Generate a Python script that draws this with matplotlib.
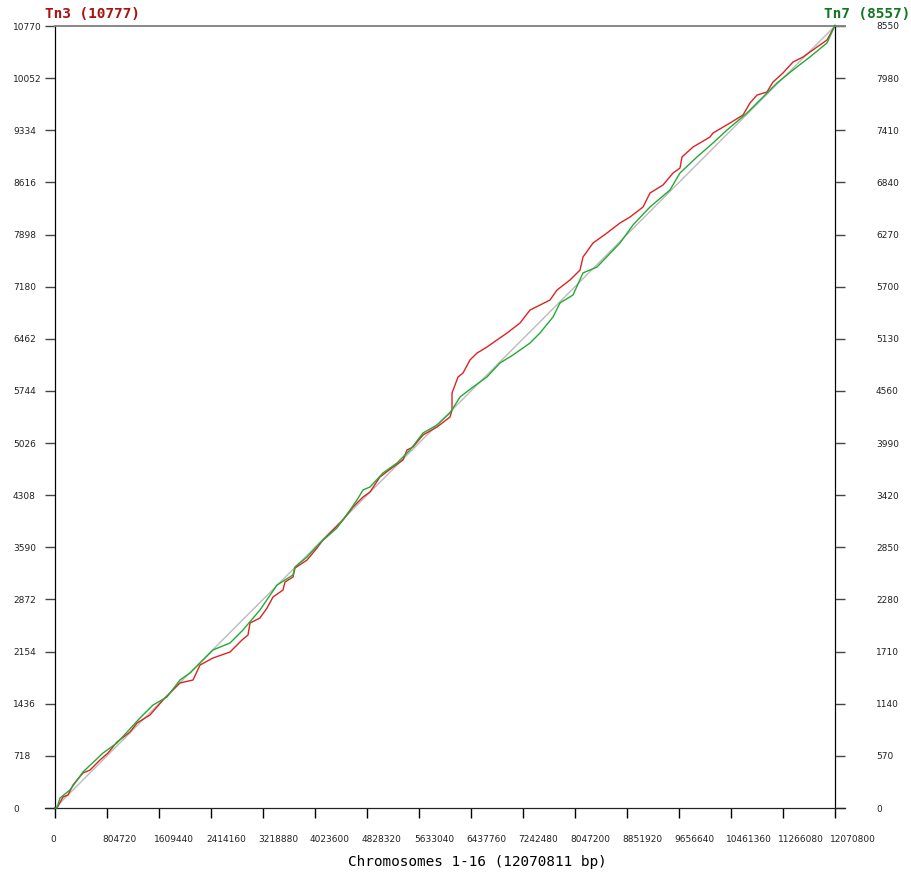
import matplotlib
matplotlib.use("Agg")
from matplotlib import pyplot as plt

## Data (positions in Mb, cumulative insertion counts)
genome_bp = 12070811
tn3_total = 10777
tn7_total = 8557

tn3_mb = [0, 0.031, 0.124, 0.201, 0.263, 0.279, 0.433, 0.542, 0.696, 0.820, 0.959,
          1.161, 1.269, 1.470, 1.671, 1.934, 2.136, 2.244, 2.445, 2.708, 2.894, 2.987,
          3.018, 3.172, 3.281, 3.374, 3.528, 3.559, 3.683, 3.714, 3.900, 4.055, 4.147,
          4.302, 4.457, 4.612, 4.766, 4.875, 5.029, 5.231, 5.385, 5.447, 5.540, 5.695,
          5.912, 6.113, 6.144, 6.144, 6.237, 6.314, 6.422, 6.531, 6.685, 6.995, 7.196,
          7.351, 7.660, 7.769, 7.970, 8.125, 8.171, 8.326, 8.542, 8.744, 8.898, 9.100,
          9.208, 9.409, 9.564, 9.672, 9.703, 9.873, 10.136, 10.183, 10.446, 10.647,
          10.755, 10.864, 11.018, 11.111, 11.266, 11.421, 11.576, 11.792, 11.947, 12.0708]
tn3_count = [0, 0, 151, 179, 289, 317, 482, 523, 661, 757, 909,
             1047, 1171, 1281, 1487, 1722, 1763, 1969, 2066, 2148, 2314, 2383,
             2548, 2617, 2754, 2906, 3002, 3112, 3181, 3305, 3415, 3581, 3691,
             3829, 3966, 4145, 4283, 4352, 4559, 4696, 4793, 4930, 4972, 5137,
             5247, 5385, 5481, 5715, 5936, 5991, 6170, 6266, 6349, 6542, 6679,
             6858, 6996, 7134, 7272, 7409, 7588, 7781, 7919, 8057, 8139, 8277,
             8470, 8580, 8745, 8814, 8966, 9103, 9241, 9296, 9434, 9544,
             9709, 9819, 9861, 9998, 10123, 10274, 10343, 10480, 10577, 10777]

tn7_mb = [0, 0.031, 0.077, 0.232, 0.433, 0.743, 0.959, 1.315, 1.517, 1.733, 1.934,
          2.089, 2.244, 2.445, 2.708, 2.909, 3.172, 3.436, 3.683, 3.714, 3.900, 4.101,
          4.364, 4.565, 4.674, 4.766, 4.875, 5.076, 5.293, 5.494, 5.695, 5.912, 6.113,
          6.268, 6.469, 6.685, 6.887, 7.088, 7.351, 7.506, 7.707, 7.815, 8.016, 8.171,
          8.388, 8.744, 8.945, 9.208, 9.517, 9.672, 9.935, 10.183, 10.400, 10.709,
          10.957, 11.173, 11.421, 11.684, 11.947, 12.0708]
tn7_count = [0, 0, 109, 197, 394, 601, 711, 984, 1126, 1214, 1400,
             1476, 1585, 1728, 1804, 1946, 2165, 2438, 2548, 2635, 2744, 2898,
             3062, 3258, 3368, 3477, 3510, 3663, 3772, 3914, 4100, 4188, 4319,
             4494, 4603, 4713, 4866, 4953, 5084, 5194, 5369, 5522, 5609, 5850,
             5915, 6178, 6375, 6571, 6757, 6943, 7118, 7271, 7413, 7599,
             7774, 7927, 8069, 8212, 8365, 8557]

x_step = 804720
left_step = 718
right_step = 570
n_ticks = 16

x_max = x_step * (n_ticks - 1)
left_max = left_step * (n_ticks - 1)
right_max = right_step * (n_ticks - 1)

red = '#dd2222'
green = '#22aa33'

fig = plt.figure(figsize=(9.11, 8.77), dpi=100)
W, H = 911, 877
ax = fig.add_axes([55 / W, (H - 808) / H, 780 / W, 782 / H])
ax2 = ax.twinx()

# diagonal reference line
ax.plot([0, x_max], [0, left_max], color='#bbbbbb', lw=1.0, zorder=1)

ax.plot([m * 1e6 for m in tn3_mb], tn3_count, color=red, lw=1.0, zorder=2, clip_on=False)
ax2.plot([m * 1e6 for m in tn7_mb], tn7_count, color=green, lw=1.0, zorder=3, clip_on=False)

ax.set_xlim(0, x_max)
ax.set_ylim(0, left_max)
ax2.set_ylim(0, right_max)

ext = 10 * x_max / 780  # 10 px overhang of the bottom / top lines
for a in (ax, ax2):
    a.spines['bottom'].set_bounds(-ext, x_max + ext)
    a.spines['bottom'].set_color('#222222')
    a.spines['top'].set_bounds(0, x_max + ext)
    a.spines['top'].set_color('#888888')
    a.spines['top'].set_linewidth(1.2)
    a.spines['left'].set_color('black')
    a.spines['right'].set_color('black')

# left axis
ax.set_yticks([left_step * i for i in range(n_ticks)])
ax.set_yticklabels([str(left_step * i) for i in range(n_ticks)])
ax.tick_params(axis='y', direction='out', length=7.2, width=1, color='#444444',
               pad=23, labelsize=6.5, labelcolor='#222222')
for lab in ax.get_yticklabels():
    lab.set_horizontalalignment('left')

# right axis
ax2.set_yticks([right_step * i for i in range(n_ticks)])
ax2.set_yticklabels([str(right_step * i) for i in range(n_ticks)])
ax2.tick_params(axis='y', direction='out', length=7.2, width=1, color='#444444',
                pad=22.3, labelsize=6.5, labelcolor='#222222')

# bottom axis
xt = [x_step * i for i in range(n_ticks)]
ax.set_xticks(xt)
ax.set_xticklabels([])
ax.tick_params(axis='x', direction='out', length=7.2, width=1, color='black')
for t in xt:
    ax.annotate(str(t), xy=(t, 0), xycoords=('data', 'axes fraction'),
                xytext=(-5, -31), textcoords='offset pixels',
                ha='left', va='center', fontsize=6.5, color='#222222')

fig.text(477 / W, 1 - 862 / H, 'Chromosomes 1-16 (%d bp)' % genome_bp,
         family='DejaVu Sans Mono', fontsize=10.4, ha='center', va='center')
fig.text(45 / W, 1 - 14 / H, 'Tn3 (%d)' % tn3_total, family='DejaVu Sans Mono',
         fontsize=10.4, fontweight='bold', color='#aa1111', ha='left', va='center')
fig.text(910 / W, 1 - 14 / H, 'Tn7 (%d)' % tn7_total, family='DejaVu Sans Mono',
         fontsize=10.4, fontweight='bold', color='#117722', ha='right', va='center')

fig.savefig('out.png', dpi=100)
